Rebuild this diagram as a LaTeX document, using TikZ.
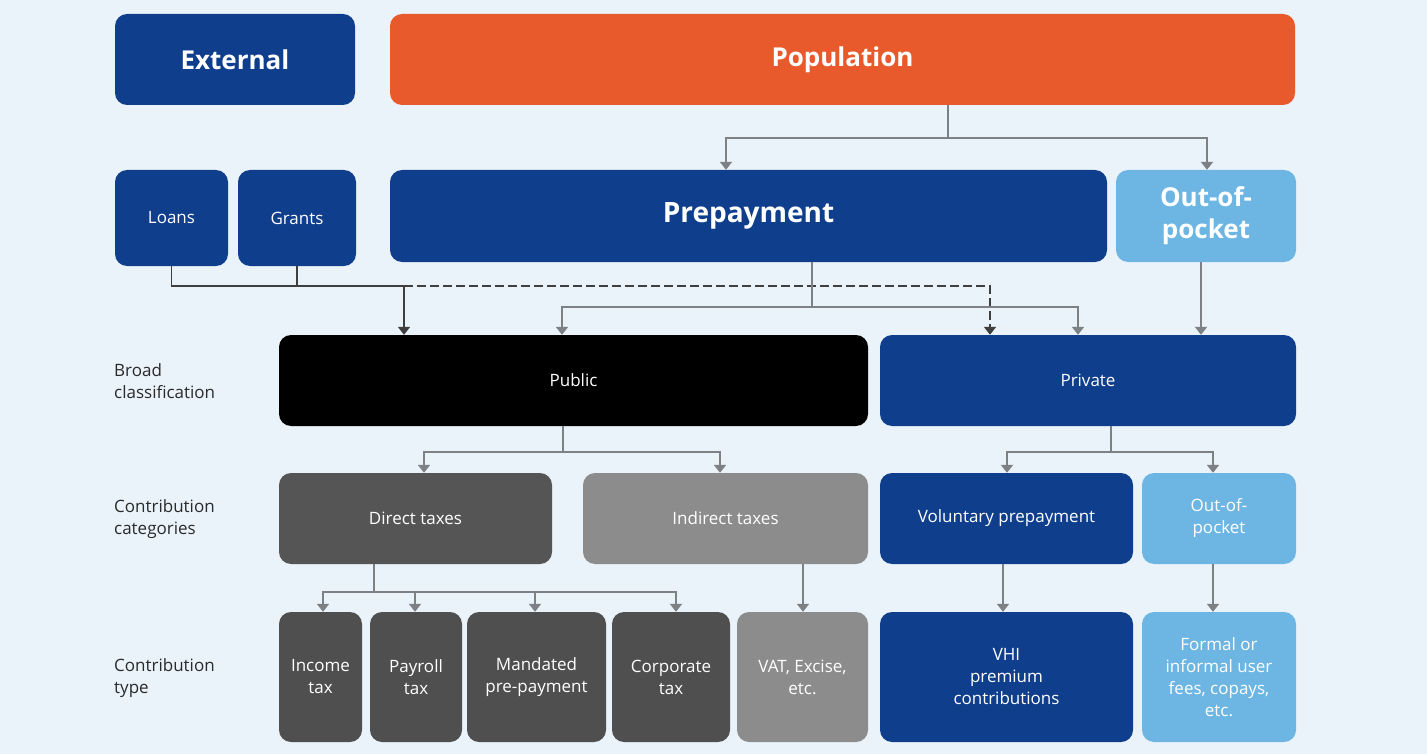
\documentclass[tikz,border=0pt]{standalone}
\usepackage{fontspec}
\setmainfont{Open Sans}
\usetikzlibrary{arrows.meta}
\definecolor{bgc}{HTML}{EAF3FA}
\definecolor{navy}{HTML}{0F3F8C}
\definecolor{orng}{HTML}{E85A2C}
\definecolor{sky}{HTML}{6DB6E3}
\definecolor{dgray}{HTML}{555555}
\definecolor{bgray}{HTML}{4F4F4F}
\definecolor{mgray}{HTML}{8C8C8C}
\definecolor{lgray}{HTML}{7D8186}
\definecolor{labc}{HTML}{2A2A2A}
\tikzset{
  box/.style={rounded corners=12pt, draw=none, text=white, align=center,
    inner sep=2pt, font=\fontsize{17}{22}\selectfont},
  bigbox/.style={box, font=\bfseries\fontsize{26}{32}\selectfont},
  rowlabel/.style={anchor=west, align=left, text=labc, inner sep=0pt,
    font=\fontsize{17}{22}\selectfont},
  conn/.style={draw=lgray, line width=2pt},
  arr/.style={conn, -{Triangle[width=12pt,length=8pt]}},
  dconn/.style={draw=labc!90, line width=1.8pt},
  darr/.style={dconn, -{Triangle[width=12pt,length=8pt]}},
}
\begin{document}
\begin{tikzpicture}[x=1pt,y=-1pt]
\fill[bgc] (0,0) rectangle (1427,754);
\useasboundingbox (0,0) rectangle (1427,754);

% top row
\node[bigbox, fill=navy, minimum width=240pt, minimum height=91pt] (ext) at (235,59.5) {External};
\node[bigbox, fill=orng, minimum width=905pt, minimum height=91pt] (pop) at (842.5,59.5) {Population};

% second row
\node[box, fill=navy, minimum width=113pt, minimum height=96pt] (loans) at (171.5,218) {Loans};
\node[box, fill=navy, minimum width=118pt, minimum height=96pt] (grants) at (297,218) {Grants};
\node[bigbox, fill=navy, minimum width=717pt, minimum height=92pt, font=\bfseries\fontsize{28}{32}\selectfont] (prep) at (748.5,216) {Prepayment};
\node[bigbox, fill=sky, minimum width=180pt, minimum height=92pt] (oop) at (1206,216) {Out-of-\\pocket};

% broad classification
\node[box, fill=black, minimum width=589pt, minimum height=91pt] (pub) at (573.5,380.5) {Public};
\node[box, fill=navy, minimum width=416pt, minimum height=91pt] (priv) at (1088,380.5) {Private};

% contribution categories
\node[box, fill=dgray, minimum width=273pt, minimum height=91pt] (dir) at (415.5,518.5) {Direct taxes};
\node[box, fill=mgray, minimum width=285pt, minimum height=91pt] (ind) at (725.5,518.5) {Indirect taxes};
\node[box, fill=navy, minimum width=253pt, minimum height=91pt] (vol) at (1006.5,518.5) {Voluntary prepayment};
\node[box, fill=sky, minimum width=154pt, minimum height=91pt] (oop2) at (1219,518.5) {Out-of-\\pocket};

% contribution types
\node[box, fill=bgray, minimum width=83pt, minimum height=130pt] (inc) at (320.5,677) {Income\\tax};
\node[box, fill=bgray, minimum width=92pt, minimum height=130pt] (pay) at (416,677) {Payroll\\tax};
\node[box, fill=bgray, minimum width=139pt, minimum height=130pt] (man) at (536.5,677) {Mandated\\pre-payment};
\node[box, fill=bgray, minimum width=118pt, minimum height=130pt] (corp) at (671,677) {Corporate\\tax};
\node[box, fill=mgray, minimum width=131pt, minimum height=130pt] (vat) at (802.5,677) {VAT, Excise,\\etc.};
\node[box, fill=navy, minimum width=253pt, minimum height=130pt] (vhi) at (1006.5,677) {VHI\\premium\\contributions};
\node[box, fill=sky, minimum width=154pt, minimum height=130pt] (fees) at (1219,677) {Formal or\\informal user\\fees, copays,\\etc.};

% row labels
\node[rowlabel] (lb1) at (114,381) {Broad\\classification};
\node[rowlabel] (lb2) at (114,519) {Contribution\\categories};
\node[rowlabel] (lb3) at (114,678) {Contribution\\type};

% junction points and drop positions
\coordinate (jpop) at (948,138);
\coordinate (jext) at (404,286);
\coordinate (jdash) at (990,286);
\coordinate (jprep) at (812,307);
\coordinate (xpubL) at (562,0);
\coordinate (xprivR) at (1078,0);
\coordinate (xoop) at (1201,0);
\coordinate (jpub) at (563,452);
\coordinate (xdir) at (424,0);
\coordinate (xind) at (720,0);
\coordinate (jpriv) at (1111,452);
\coordinate (xvol) at (1007,0);
\coordinate (xoop2) at (1213,0);
\coordinate (jdir) at (374,592);
\coordinate (xinc) at (323,0);
\coordinate (xpay) at (415,0);
\coordinate (xman) at (535,0);
\coordinate (xcorp) at (676,0);
\coordinate (xvat) at (803,0);
\coordinate (xvhi) at (1003,0);
\coordinate (xfees) at (1213,0);
\coordinate (xprep) at (726,0);
\coordinate (xoopt) at (1207,0);

% population splits into prepayment and out-of-pocket
\draw[conn] (pop.south -| jpop) -- (jpop);
\draw[arr] (jpop) -| (xprep |- prep.north);
\draw[arr] (jpop) -| (xoopt |- oop.north);

% external funds
\draw[dconn] (loans.south) -- (loans.south |- jext) -- (jext);
\draw[dconn] (grants.south) -- (grants.south |- jext);
\draw[darr] (jext) -- (jext |- pub.north);
\draw[darr, dashed, dash pattern=on 9pt off 4pt] (jext) -- (jdash) -- (jdash |- priv.north);

% prepayment to public and private
\draw[conn] (prep.south -| jprep) -- (jprep);
\draw[arr] (jprep) -| (xpubL |- pub.north);
\draw[arr] (jprep) -| (xprivR |- priv.north);
\draw[arr] (oop.south -| xoop) -- (xoop |- priv.north);

% public branches
\draw[conn] (pub.south -| jpub) -- (jpub);
\draw[arr] (jpub) -| (xdir |- dir.north);
\draw[arr] (jpub) -| (xind |- ind.north);

% private branches
\draw[conn] (priv.south -| jpriv) -- (jpriv);
\draw[arr] (jpriv) -| (xvol |- vol.north);
\draw[arr] (jpriv) -| (xoop2 |- oop2.north);

% direct taxes to types
\draw[conn] (dir.south -| jdir) -- (jdir);
\draw[arr] (jdir) -| (xinc |- inc.north);
\draw[arr] (jdir) -| (xcorp |- corp.north);
\draw[arr] (xpay |- jdir) -- (xpay |- pay.north);
\draw[arr] (xman |- jdir) -- (xman |- man.north);

% single drops
\draw[arr] (ind.south -| xvat) -- (xvat |- vat.north);
\draw[arr] (vol.south -| xvhi) -- (xvhi |- vhi.north);
\draw[arr] (oop2.south -| xfees) -- (xfees |- fees.north);
\end{tikzpicture}
\end{document}
